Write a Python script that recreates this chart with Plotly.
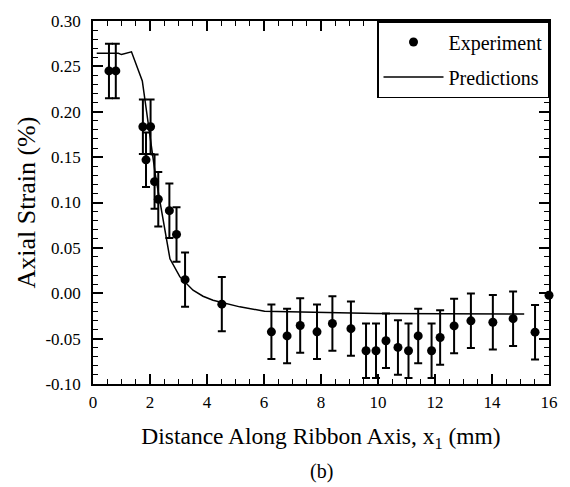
import plotly.graph_objects as go

# Experiment data
exp_x = [0.56, 0.80, 1.75, 1.86, 2.02, 2.16, 2.29, 2.68, 2.93, 3.23, 4.52,
         6.26, 6.81, 7.27, 7.86, 8.40, 9.05, 9.58, 9.93, 10.28, 10.70, 11.07,
         11.41, 11.88, 12.18, 12.67, 13.26, 14.03, 14.74, 15.51, 16.0]
exp_y = [0.245, 0.245, 0.1835, 0.147, 0.1835, 0.123, 0.1036, 0.091, 0.0648, 0.015, -0.012,
         -0.0425, -0.047, -0.0355, -0.0425, -0.0333, -0.039, -0.0634, -0.0634, -0.0524, -0.0597, -0.0634,
         -0.047, -0.0634, -0.0487, -0.036, -0.0304, -0.032, -0.028, -0.0429, -0.0022]
exp_err = [0.03] * 30 + [0.0]

# Predictions
pred_x = [0.13, 0.89, 1.0, 1.35, 1.73, 1.94, 2.2, 2.7, 3.05, 3.51, 3.86, 4.21,
          5.15, 6.02, 7.48, 9.93, 15.13]
pred_y = [0.2645, 0.2645, 0.263, 0.266, 0.234, 0.1865, 0.128, 0.038, 0.018, 0.0033, -0.0033, -0.0077,
          -0.015, -0.0198, -0.0205, -0.0223, -0.023]

x_ticks = [0, 2, 4, 6, 8, 10, 12, 14, 16]
y_ticks = [-0.10, -0.05, 0.00, 0.05, 0.10, 0.15, 0.20, 0.25, 0.30]
y_labels = ["-0.10", "-0.05", "0.00", "0.05", "0.10", "0.15", "0.20", "0.25", "0.30"]

FONT = "Liberation Serif, Times New Roman, serif"

fig = go.Figure()
fig.add_trace(go.Scatter(
    x=exp_x, y=exp_y, mode="markers", name="Experiment", legendgroup="a",
    marker=dict(color="black", size=9),
    error_y=dict(type="data", array=exp_err, color="black", thickness=2, width=4),
    cliponaxis=False,
))
fig.add_trace(go.Scatter(
    x=pred_x, y=pred_y, mode="lines", name="Predictions", legendgroup="b",
    line=dict(color="black", width=1.5),
))

axis_common = dict(
    showline=True, linecolor="black", linewidth=1.5, mirror="allticks",
    ticks="inside", ticklen=10, tickwidth=1.5, tickcolor="black",
    showgrid=False, zeroline=False,
    tickfont=dict(family=FONT, size=17, color="black"),
)

fig.update_xaxes(
    range=[0, 16], tickvals=x_ticks,
    minor=dict(dtick=0.5, tick0=0, ticklen=5, ticks="inside", tickcolor="black", tickwidth=1.2),
    title=dict(text="Distance Along Ribbon Axis, x<sub>1</sub> (mm)",
               font=dict(family=FONT, size=23.5, color="black"), standoff=16),
    ticklabelstandoff=2,
    **axis_common,
)
fig.update_yaxes(
    range=[-0.10, 0.30], tickvals=y_ticks, ticktext=y_labels,
    minor=dict(dtick=0.01, tick0=0, ticklen=5, ticks="inside", tickcolor="black", tickwidth=1.2),
    title=dict(text="Axial Strain (%)", font=dict(family=FONT, size=26, color="black"), standoff=2),
    ticklabelstandoff=7,
    **axis_common,
)

fig.add_annotation(
    text="(b)", xref="paper", yref="paper", x=0.5, y=-0.205,
    xanchor="center", yanchor="top", showarrow=False,
    font=dict(family=FONT, size=20, color="black"),
)

fig.update_layout(
    width=570, height=487,
    margin=dict(l=93, r=19, t=20, b=103),
    paper_bgcolor="white", plot_bgcolor="white",
    font=dict(family=FONT, color="black"),
    legend=dict(
        x=1, y=1, xanchor="right", yanchor="top",
        bgcolor="white", bordercolor="black", borderwidth=1.5,
        font=dict(family=FONT, size=20, color="black"),
        itemwidth=60, tracegroupgap=6,
    ),
)

fig.write_html("out.html")
